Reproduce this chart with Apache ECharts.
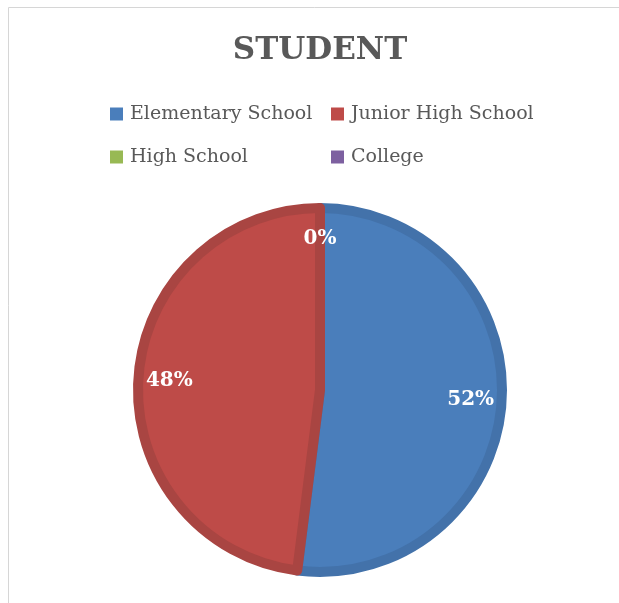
<!DOCTYPE html>
<html>
<head>
<meta charset="utf-8">
<script src="https://cdn.jsdelivr.net/npm/echarts@6/dist/echarts.min.js"></script>
<style>
  html, body { margin: 0; padding: 0; background: #fff; }
  #main { width: 619px; height: 603px; }
</style>
</head>
<body>
<div id="main"></div>
<script>
const categories = ['Elementary School', 'Junior High School', 'High School', 'College']
const values = [52, 48, 0, 0]
const colors = ['#4a7ebb', '#be4b48', '#98b954', '#7d60a0']
const edgeColors = ['#4372aa', '#a94542', '#89a84c', '#705690']

const myChart = echarts.init(document.getElementById('main'))

const option = {
    animation: false,
    title: {
        text: 'STUDENT',
        left: 320,
        textAlign: 'center',
        top: 35,
        padding: 0,
        textStyle: {
            fontFamily: 'DejaVu Serif',
            fontSize: 31,
            fontWeight: 'bold',
            color: '#595959',
        },
    },
    graphic: [
        {
            type: 'rect',
            shape: { x: 8.5, y: 7.5, width: 700, height: 700 },
            style: { fill: 'none', stroke: '#d6d6d6', lineWidth: 1 },
            silent: true,
        },
    ],
    legend: {
        left: 110,
        top: 98,
        width: 440,
        padding: 0,
        itemWidth: 13,
        itemHeight: 13,
        itemGap: 11,
        icon: 'rect',
        data: categories.map((name, i) => ({
            name: name,
            itemStyle: { color: colors[i], borderWidth: 0 },
        })),
        textStyle: {
            fontFamily: 'DejaVu Serif',
            fontSize: 19,
            color: '#595959',
            width: 190,
            lineHeight: 32,
            padding: [0, 0, 0, 2],
        },
    },
    series: [
        {
            name: 'STUDENT',
            type: 'pie',
            center: [320, 390],
            radius: [0, 182],
            startAngle: 90,
            silent: true,
            label: { show: false },
            labelLine: { show: false },
            data: categories.map((name, i) => ({
                name: name,
                value: values[i],
                itemStyle: {
                    color: colors[i],
                    borderColor: edgeColors[i],
                    borderWidth: values[i] > 0 ? 10 : 0,
                },
            })),
        },
        {
            name: 'labels',
            type: 'pie',
            center: [320, 390],
            radius: [112, 184],
            startAngle: 90,
            silent: true,
            itemStyle: { color: 'rgba(0,0,0,0)' },
            label: {
                show: true,
                position: 'inside',
                formatter: '{d}%',
                precision: 0,
                fontFamily: 'DejaVu Serif',
                fontSize: 20,
                fontWeight: 'bold',
                color: '#fff',
            },
            labelLine: { show: false },
            data: categories.map((name, i) => ({ name: name, value: values[i] })),
        },
    ],
}

myChart.setOption(option)
</script>
</body>
</html>
